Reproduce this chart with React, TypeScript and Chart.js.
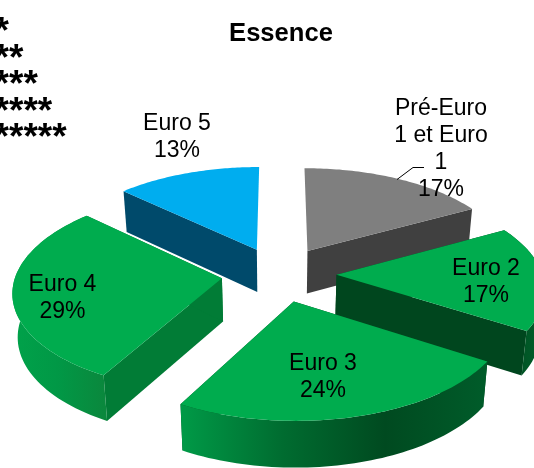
import React, { useEffect, useRef } from "react";
import { Chart, registerables } from "chart.js";

Chart.register(...registerables);

const categories = ["Pré-Euro 1 et Euro 1", "Euro 2", "Euro 3", "Euro 4", "Euro 5"];
const labelLines = [["Pré-Euro", "1 et Euro", "1"], ["Euro 2"], ["Euro 3"], ["Euro 4"], ["Euro 5"]];
const values = [17, 17, 24, 29, 13];
const topColors = ["#7f7f7f", "#00ac4e", "#00ac4e", "#00ac4e", "#00adef"];
const wallColors = ["#404040", "#00461e", "#004a20", "#017c36", "#004a6b"];
const rimStops = [
  ["#404040", "#404040"],
  ["#004a20", "#00612b"],
  ["#009a47", "#006c30", "#004a20", "#005c2a"],
  ["#00a24a", "#019846", "#0a883d"],
  ["#004a6b", "#004a6b"],
];
const starLines = ["*", "**", "***", "****", "*****"];

// projection of the pie plane: centre, radii, perspective, thickness
const CX = 279, CY = 274, RX = 206, RY = 98, PERSP = 0.12, DEPTH = 43;
const OFFSET = 50;
// label placement (centre x, y of first line)
const labelAnchors = [[441, 109], [486, 269], [323, 364], [62.5, 285], [177, 124]];
const LABEL_FONT = '23px "Liberation Sans", Arial, sans-serif';
const LINE = 27;

const project = (u: number, v: number, z: number) => {
  const w = 1 - PERSP * v;
  let x = CX + (RX * u) / w;
  const y = CY + (RY * v) / w + (z * DEPTH) / Math.sqrt(w);
  if (z) x = CX + (x - CX) * 0.98;
  return [x, y];
};

const pie3d = {
  id: "pie3d",
  beforeDatasetsDraw(chart: any) {
    const ctx = chart.ctx;
    const arcs = chart.getDatasetMeta(0).data as any[];
    const order = arcs
      .map((el, i) => ({ el, i, mid: (el.startAngle + el.endAngle) / 2 }))
      .sort((a, b) => Math.sin(a.mid) - Math.sin(b.mid));

    for (const { el, i, mid } of order) {
      const e = el.options.offset / el.outerRadius;
      const ou = Math.cos(mid) * e, ov = Math.sin(mid) * e;
      const rim: number[][] = [];
      const steps = 60;
      for (let s = 0; s <= steps; s++) {
        const a = el.startAngle + ((el.endAngle - el.startAngle) * s) / steps;
        rim.push([ou + Math.cos(a), ov + Math.sin(a)]);
      }
      const quad = (a: number[], b: number[], fill: any) => {
        const p = [project(a[0], a[1], 0), project(b[0], b[1], 0), project(b[0], b[1], 1), project(a[0], a[1], 1)];
        const dx = p[1][0] - p[0][0], dy = p[1][1] - p[0][1];
        if (Math.abs(dx) < 0.1 * Math.hypot(dx, dy)) return; // edge-on wall
        ctx.beginPath();
        p.forEach((q, n) => (n ? ctx.lineTo(q[0], q[1]) : ctx.moveTo(q[0], q[1])));
        ctx.closePath();
        ctx.fillStyle = fill;
        ctx.fill();
      };
      const apex = [ou, ov];
      // radial walls
      quad(apex, rim[0], wallColors[i]);
      quad(apex, rim[steps], wallColors[i]);
      // rim wall with a sideways shade
      const top = rim.map((p) => project(p[0], p[1], 0));
      const bot = rim.map((p) => project(p[0], p[1], 1));
      const xs = top.map((p) => p[0]);
      const g = ctx.createLinearGradient(Math.min(...xs), 0, Math.max(...xs), 0);
      const stops = rimStops[i];
      stops.forEach((c, n) => g.addColorStop(n / (stops.length - 1), c));
      if (Math.sin(mid) > -0.2) {
        ctx.beginPath();
        top.forEach((q, n) => (n ? ctx.lineTo(q[0], q[1]) : ctx.moveTo(q[0], q[1])));
        bot.reverse().forEach((q) => ctx.lineTo(q[0], q[1]));
        ctx.closePath();
        ctx.fillStyle = g;
        ctx.fill();
      }
      // top face
      ctx.beginPath();
      const ap = project(apex[0], apex[1], 0);
      ctx.moveTo(ap[0], ap[1]);
      top.forEach((q) => ctx.lineTo(q[0], q[1]));
      ctx.closePath();
      ctx.fillStyle = el.options.backgroundColor;
      ctx.fill();
    }
    return false;
  },
  afterDraw(chart: any) {
    const ctx = chart.ctx;
    ctx.save();
    ctx.fillStyle = "#000";
    ctx.textAlign = "center";
    ctx.textBaseline = "middle";
    ctx.font = LABEL_FONT;
    // leader line of the first label
    ctx.strokeStyle = "#000";
    ctx.lineWidth = 1;
    ctx.beginPath();
    ctx.moveTo(397, 179.5);
    ctx.lineTo(413, 167.5);
    ctx.lineTo(424, 167.5);
    ctx.stroke();
    values.forEach((v, i) => {
      const lines = [...labelLines[i], `${v}%`];
      lines.forEach((t, n) => ctx.fillText(t, labelAnchors[i][0], labelAnchors[i][1] + n * LINE));
    });
    // footnote markers, clipped by the left edge
    ctx.textAlign = "right";
    ctx.textBaseline = "alphabetic";
    ctx.font = 'bold 37px "Liberation Sans", Arial, sans-serif';
    starLines.forEach((s, n) => ctx.fillText(s, 9 + n * 14.4, 43 + n * 26.5));
    ctx.restore();
  },
};

export default function App() {
  const ref = useRef<HTMLCanvasElement>(null);
  useEffect(() => {
    document.body.style.margin = "0";
    const chart = new Chart(ref.current!, {
      type: "doughnut",
      data: {
        labels: categories,
        datasets: [{ data: values, backgroundColor: topColors, offset: OFFSET, borderWidth: 0 }],
      },
      options: {
        responsive: false,
        animation: false,
        cutout: 0,
        layout: { padding: { left: 28 } },
        plugins: {
          legend: { display: false },
          tooltip: { enabled: false },
          title: {
            display: true,
            text: "Essence",
            color: "#000",
            font: { family: '"Liberation Sans", Arial, sans-serif', size: 25.6, weight: "bold" },
            padding: { top: 19, bottom: 10 },
          },
        },
      },
      plugins: [pie3d],
    } as any);
    return () => chart.destroy();
  }, []);
  return <canvas ref={ref} width={534} height={468} style={{ display: "block" }} />;
}
